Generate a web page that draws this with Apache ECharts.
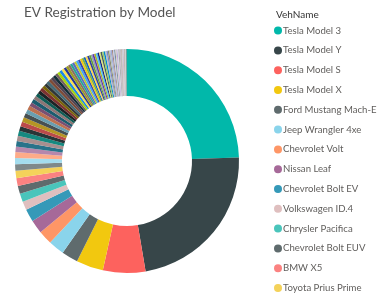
<!DOCTYPE html>
<html>
<head>
<meta charset="utf-8">
<script src="https://cdn.jsdelivr.net/npm/echarts@6/dist/echarts.min.js"></script>
<style>
html,body{margin:0;padding:0;background:#fff;}
#chart{width:381px;height:300px;}
</style>
</head>
<body>
<div id="chart"></div>
<script>
// Vehicle models (descending by registrations)
var models = [
  "Tesla Model 3","Tesla Model Y","Tesla Model S","Tesla Model X","Ford Mustang Mach-E",
  "Jeep Wrangler 4xe","Chevrolet Volt","Nissan Leaf","Chevrolet Bolt EV","Volkswagen ID.4",
  "Chrysler Pacifica","Chevrolet Bolt EUV","BMW X5","Toyota Prius Prime",
  "Kia Niro","Toyota RAV4 Prime","Ford Fusion","BMW i3","Hyundai Ioniq 5","Audi e-tron",
  "Kia EV6","Volvo XC90","Ford F-150 Lightning","Rivian R1S","Rivian R1T","Polestar 2",
  "Ford C-Max","Audi Q5 e","BMW 330e","Hyundai Kona Electric","Volvo XC60","Honda Clarity",
  "Porsche Taycan","Nissan Ariya","Mini Hardtop","Ford Escape","Hyundai Ioniq",
  "Mitsubishi Outlander","Kia Optima","Kia Soul","BMW X3","Cadillac Lyriq","Volvo XC40",
  "Audi e-tron Sportback","Lincoln Aviator","Mercedes EQB","Genesis GV60","Hyundai Tucson",
  "Kia Sorento","Kia Sportage","Toyota Prius Plug-in","Chevrolet Spark","BMW i4","BMW iX",
  "Fiat 500","Smart ForTwo","Lucid Air","Porsche Cayenne","Mercedes GLC","Ford Focus",
  "Volvo S60","Volvo V60","Lincoln Corsair","Jaguar I-Pace","Mercedes EQS","Audi A3",
  "BMW 530e","Toyota bZ4X","Subaru Solterra","Hyundai Santa Fe","Mercedes EQE","Audi Q4",
  "Porsche Panamera","Mini Countryman","Volvo S90","Cadillac ELR","Honda Fit EV","Kia Niro EV",
  "BMW i8","Genesis GV70","Mercedes S-Class","Lincoln Nautilus","Toyota RAV4 EV","Nissan Leaf S",
  "Polestar 1","Bentley Bentayga","Mercedes B-Class","Mercedes EQS SUV","BMW 740e","Audi e-tron GT"
];
// Registrations
var registrations = [
  8800,8200,2200,1400,850,830,720,700,660,440,
  430,420,400,380,
  340,320,300,290,280,270,260,250,240,240,230,220,210,200,200,190,180,180,170,160,160,
  160,150,150,150,140,140,140,130,130,130,120,120,120,110,110,110,100,100,100,100,100,
  90,90,90,90,90,80,80,80,80,80,70,70,70,70,70,60,60,60,60,50,50,50,50,
  40,40,40,40,30,30,30,30,20,20,20,20
];
var legendTitle = "VehName";
var chartTitle = "EV Registration by Model";

var palette = [
  "#01B8AA","#374649","#FD625E","#F2C80F","#5F6B6D","#8AD4EB","#FE9666","#A66999","#3599B8","#DFBFBF",
  "#4AC5BB","#5F6B6D","#FB8281","#F4D25A","#7F898A","#A4DDEE","#FDAB89","#B687AC","#28738A","#A78F8F",
  "#168980","#293537","#BB4A4A","#B59525","#475052","#6A9FB0","#BD7150","#7B4F71","#1B5C6F","#8C7676",
  "#0E5C55","#1C2325","#7D3231","#796408","#303637","#456A76","#7E4B36","#534350","#122E37","#706060",
  "#A6D608","#1E88E5","#F9E04B","#283593","#9E9D24","#8D6E63","#26A69A","#5C6BC0","#C0CA33","#42A5F5",
  "#3949AB","#F2C80F","#7CB342","#1565C0","#FFD54F","#303F9F","#689F38","#90A4AE","#5E35B1","#AFB42B",
  "#4FC3F7","#1A237E","#DCE775","#455A64","#9CCC65","#0288D1","#BDBDBD","#7986CB","#8D8D6E","#B0BEC5",
  "#9FA8DA","#A1887F","#C5CAE9","#78909C","#D7CCC8","#B39DDB","#CFD8DC","#9E9E9E","#C8B6C8","#A5A5A5",
  "#BCAAA4","#C9C9C9","#B8A9C9","#D0D0D0","#A09080","#BDB5C0","#C4C4C4","#B5B5B5"
];

var data = models.map(function(n,i){ return {name:n, value:registrations[i], itemStyle:{color:palette[i % palette.length]}}; });

var chart = echarts.init(document.getElementById('chart'), null, {renderer:'canvas'});
chart.setOption({
  animation:false,
  title:[
    {text:chartTitle, left:19, top:1, textStyle:{fontFamily:'Lato', fontSize:13.6, fontWeight:'normal', color:'#555'}},
    {text:legendTitle, left:271, top:5, textStyle:{fontFamily:'Lato', fontSize:10, fontWeight:'normal', color:'#333'}}
  ],
  legend:{
    orient:'vertical', left:269, top:19.6, height:300,
    data: models.slice(0,14),
    icon:'circle', itemWidth:8, itemHeight:8, itemGap:7.8,
    selectedMode:false,
    formatter:function(n){ return '{a|' + n + '}'; },
    textStyle:{fontFamily:'Lato', fontSize:9.6, color:'#605E5C', lineHeight:12,
      rich:{a:{fontFamily:'Lato', fontSize:9.6, color:'#605E5C', lineHeight:12, padding:[0,0,0,-4]}}}
  },
  series:[{
    type:'pie',
    center:[127,161],
    radius:[65,112],
    startAngle:90,
    clockwise:true,
    label:{show:false},
    labelLine:{show:false},
    emphasis:{disabled:true},
    itemStyle:{borderWidth:0},
    data:data
  }]
});
</script>
</body>
</html>
